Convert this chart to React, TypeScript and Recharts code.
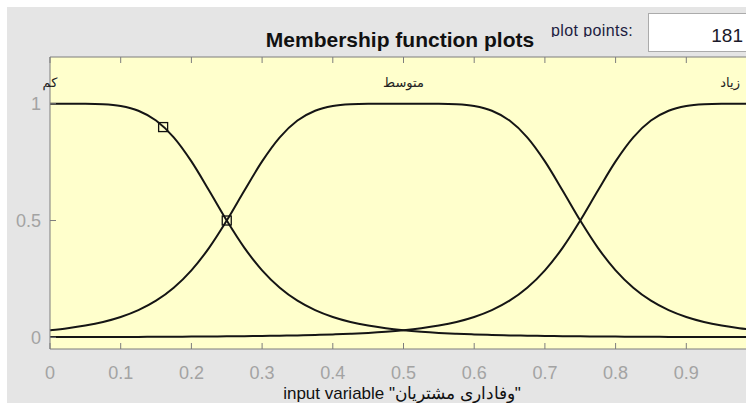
import React from 'react';
import { ComposedChart, Line, Scatter, XAxis, YAxis, CartesianGrid } from 'recharts';

// Input variable samples (universe of discourse 0..1)
const inputValues = [
  0, 0.025, 0.05, 0.075, 0.1, 0.125, 0.15, 0.175, 0.2, 0.225,
  0.25, 0.275, 0.3, 0.325, 0.35, 0.375, 0.4, 0.425, 0.45, 0.475,
  0.5, 0.525, 0.55, 0.575, 0.6, 0.625, 0.65, 0.675, 0.7, 0.725,
  0.75, 0.775, 0.8, 0.825, 0.85, 0.875, 0.9, 0.925, 0.95, 0.975, 1,
];

// Membership degree of "کم"
const lowValues = [
  1.0, 1.0, 0.9997, 0.9976, 0.9899, 0.9697, 0.9279, 0.8561, 0.7532, 0.6287,
  0.5, 0.383, 0.2867, 0.2122, 0.1568, 0.1164, 0.0871, 0.0658, 0.0503, 0.0388,
  0.0303, 0.0239, 0.019, 0.0153, 0.0124, 0.0101, 0.0083, 0.0069, 0.0058, 0.0049,
  0.0041, 0.0035, 0.003, 0.0025, 0.0022, 0.0019, 0.0017, 0.0014, 0.0013, 0.0011, 0.001,
];

// Membership degree of "متوسط"
const mediumValues = [
  0.0303, 0.0388, 0.0503, 0.0658, 0.0871, 0.1164, 0.1568, 0.2122, 0.2867, 0.383,
  0.5, 0.6287, 0.7532, 0.8561, 0.9279, 0.9697, 0.9899, 0.9976, 0.9997, 1.0,
  1.0, 1.0, 0.9997, 0.9976, 0.9899, 0.9697, 0.9279, 0.8561, 0.7532, 0.6287,
  0.5, 0.383, 0.2867, 0.2122, 0.1568, 0.1164, 0.0871, 0.0658, 0.0503, 0.0388, 0.0303,
];

// Membership degree of "زیاد"
const highValues = [
  0.001, 0.0011, 0.0013, 0.0014, 0.0017, 0.0019, 0.0022, 0.0025, 0.003, 0.0035,
  0.0041, 0.0049, 0.0058, 0.0069, 0.0083, 0.0101, 0.0124, 0.0153, 0.019, 0.0239,
  0.0303, 0.0388, 0.0503, 0.0658, 0.0871, 0.1164, 0.1568, 0.2122, 0.2867, 0.383,
  0.5, 0.6287, 0.7532, 0.8561, 0.9279, 0.9697, 0.9899, 0.9976, 0.9997, 1.0, 1.0,
];

const xTicks = [0, 0.1, 0.2, 0.3, 0.4, 0.5, 0.6, 0.7, 0.8, 0.9, 1];
const yTicks = [0, 0.5, 1];

// Names of the membership functions and where they are written
const mfNames = ['کم', 'متوسط', 'زیاد'];
const mfNameX = [0, 0.5, 0.962];
const mfNameY = [1.093, 1.093, 1.093];

// Selected-function handles (square markers)
const handleX = [0.16, 0.25];
const handleY = [0.9, 0.5];

const plotPointsLabel = 'plot points:';
const plotPointsValue = '181';
const titleText = 'Membership function plots';
const xLabelText = 'input variable "وفاداری مشتریان"';

const rows = inputValues.map((x, i) => ({
  x,
  low: lowValues[i],
  medium: mediumValues[i],
  high: highValues[i],
}));
const nameRows = mfNames.map((name, i) => ({ x: mfNameX[i], y: mfNameY[i], name }));
const handleRows = handleX.map((x, i) => ({ x, y: handleY[i] }));

const VIEW_W = 746;
const AXIS = '#7d7d7d';
const TICK_TEXT = '#a3a3a3';
const LATIN = '"Liberation Sans", Arial, Helvetica, sans-serif';
const PERSIAN = '"DejaVu Sans", sans-serif';

const BottomTick = (props: any) => {
  const { x, y, payload } = props;
  // the axis runs past the window's right edge; only label ticks that are in view
  const inView = x + 8 < VIEW_W;
  return (
    <g>
      <line x1={x} x2={x} y1={y} y2={y - 6} stroke={AXIS} strokeWidth={1} />
      {inView && (
        <text x={x} y={y + 30} textAnchor="middle" fill={TICK_TEXT} fontSize={18} fontFamily={LATIN}>
          {String(payload.value)}
        </text>
      )}
    </g>
  );
};

const TopTick = (props: any) => {
  const { x, y } = props;
  return <line x1={x} x2={x} y1={y} y2={y + 6} stroke={AXIS} strokeWidth={1} />;
};

const LeftTick = (props: any) => {
  const { x, y, payload } = props;
  return (
    <g>
      <line x1={x} x2={x + 6} y1={y} y2={y} stroke={AXIS} strokeWidth={1} />
      <text x={x - 9} y={y + 6.5} textAnchor="end" fill={TICK_TEXT} fontSize={18} fontFamily={LATIN}>
        {String(payload.value)}
      </text>
    </g>
  );
};

const NameShape = (props: any) => {
  const { cx, cy, payload } = props;
  return (
    <text x={cx} y={cy + 5} textAnchor="middle" fill="#222" fontSize={13} fontFamily={PERSIAN} direction="rtl">
      {payload.name}
    </text>
  );
};

const HandleShape = (props: any) => {
  const { cx, cy } = props;
  return <rect x={cx - 4.5} y={cy - 4.5} width={9} height={9} fill="none" stroke="#111" strokeWidth={1.3} />;
};

export default function App() {
  return (
    <div style={{ position: 'relative', width: VIEW_W, height: 403, overflow: 'hidden', background: '#ffffff' }}>
      <style>{'body{margin:0;}'}</style>
      <div style={{ position: 'absolute', left: 7, top: 7, width: 739, height: 396, background: '#e5e5e5' }} />
      <div style={{ position: 'absolute', left: 0, top: 0 }}>
        <ComposedChart
          width={820}
          height={403}
          data={rows}
          margin={{ top: 56, right: 63, bottom: 53, left: 49 }}
        >
          <CartesianGrid horizontal={false} vertical={false} fill="#FFFFCC" />
          <XAxis
            dataKey="x"
            type="number"
            domain={[0, 1]}
            ticks={xTicks}
            height={1}
            tickSize={0}
            tickMargin={0}
            tickLine={false}
            axisLine={{ stroke: AXIS }}
            tick={<BottomTick />}
            interval={0}
          />
          <XAxis
            xAxisId="top"
            orientation="top"
            dataKey="x"
            type="number"
            domain={[0, 1]}
            ticks={xTicks}
            height={1}
            tickSize={0}
            tickMargin={0}
            tickLine={false}
            axisLine={{ stroke: AXIS }}
            tick={<TopTick />}
            interval={0}
          />
          <YAxis
            type="number"
            domain={[-0.05, 1.2]}
            ticks={yTicks}
            width={1}
            tickSize={0}
            tickMargin={0}
            tickLine={false}
            axisLine={{ stroke: AXIS }}
            tick={<LeftTick />}
            interval={0}
          />
          <Line type="monotone" dataKey="low" stroke="#151515" strokeWidth={2} dot={false} isAnimationActive={false} />
          <Line type="monotone" dataKey="medium" stroke="#151515" strokeWidth={2} dot={false} isAnimationActive={false} />
          <Line type="monotone" dataKey="high" stroke="#151515" strokeWidth={2} dot={false} isAnimationActive={false} />
          <Scatter data={handleRows} dataKey="y" shape={<HandleShape />} isAnimationActive={false} />
          <Scatter data={nameRows} dataKey="y" shape={<NameShape />} isAnimationActive={false} />
        </ComposedChart>
      </div>
      <svg
        width={VIEW_W}
        height={403}
        style={{ position: 'absolute', left: 0, top: 0, pointerEvents: 'none' }}
      >
        <defs>
          <clipPath id="ppClip">
            <rect x={0} y={0} width={VIEW_W} height={37} />
          </clipPath>
        </defs>
        <text x={400} y={47} textAnchor="middle" fontSize={21} fontWeight="bold" fill="#111" fontFamily={LATIN}>
          {titleText}
        </text>
        <text x={551} y={36} fontSize={16} letterSpacing={0.4} fill="#1c1c40" fontFamily={LATIN} clipPath="url(#ppClip)">
          {plotPointsLabel}
        </text>
        <rect x={648.5} y={13.5} width={110} height={38} fill="#ffffff" stroke="#ababab" strokeWidth={1} />
        <text x={743} y={42} textAnchor="end" fontSize={19} fill="#1a1a2a" fontFamily={LATIN}>
          {plotPointsValue}
        </text>
        <text x={402} y={399} textAnchor="middle" fontSize={17} fill="#111" fontFamily={LATIN}>
          {xLabelText}
        </text>
      </svg>
    </div>
  );
}
